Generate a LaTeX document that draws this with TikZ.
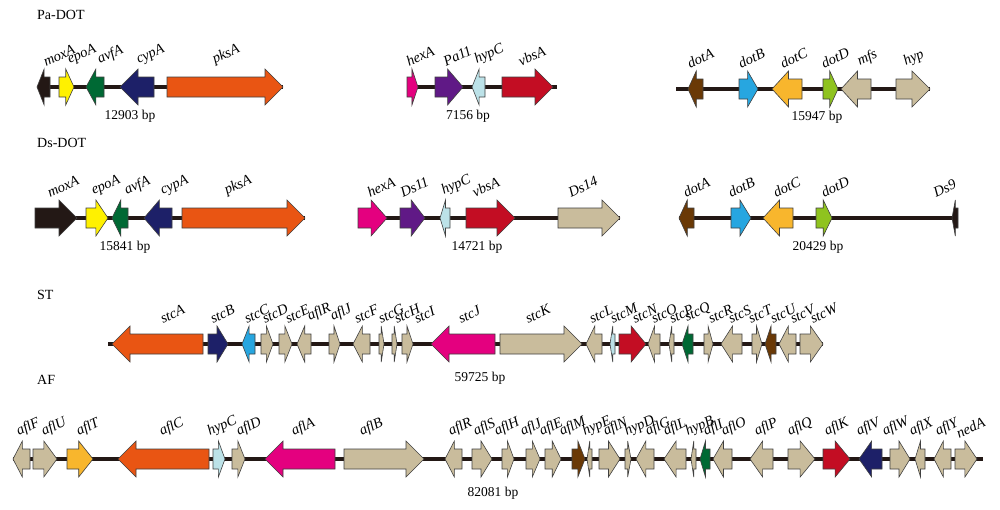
\documentclass[tikz,border=0pt]{standalone}
\usepackage{fontspec}
\setmainfont{Liberation Serif}
\definecolor{cblk}{HTML}{231815}
\definecolor{cyel}{HTML}{FFF100}
\definecolor{cgrn}{HTML}{006934}
\definecolor{cnav}{HTML}{1D2068}
\definecolor{corg}{HTML}{E95513}
\definecolor{cmag}{HTML}{E4007F}
\definecolor{cpur}{HTML}{601986}
\definecolor{clbl}{HTML}{BCE2E8}
\definecolor{cred}{HTML}{C30D23}
\definecolor{cbrn}{HTML}{6A3906}
\definecolor{cblu}{HTML}{27A6E0}
\definecolor{cgld}{HTML}{F8B62D}
\definecolor{clim}{HTML}{8FC31F}
\definecolor{ctan}{HTML}{C9BC9C}
\tikzset{
 gene/.style={draw=black!75,line width=0.6pt},
 bb/.style={draw=cblk,line width=3.5pt},
 lab/.style={anchor=south west,rotate=25,font=\fontsize{14.5}{14.5}\selectfont\itshape,inner sep=0pt},
 ttl/.style={anchor=west,font=\fontsize{14}{14}\selectfont,inner sep=0pt},
 bp/.style={font=\fontsize{13.5}{13.5}\selectfont,inner sep=0pt}
}
\newcommand\gn[7]{%
 \pgfmathsetmacro\gL{#2-#1}%
 \pgfmathsetmacro\gH{min(18,0.55*\gL)}%
 \ifnum#5>0
  \pgfmathsetmacro\gM{#2-\gH}%
  \draw[gene,fill=#4] (#1,#3-10) -- (\gM,#3-10) -- (\gM,#3-18) -- (#2,#3) -- (\gM,#3+18) -- (\gM,#3+10) -- (#1,#3+10) -- cycle;
 \else
  \pgfmathsetmacro\gM{#1+\gH}%
  \draw[gene,fill=#4] (#2,#3-10) -- (\gM,#3-10) -- (\gM,#3-18) -- (#1,#3) -- (\gM,#3+18) -- (\gM,#3+10) -- (#2,#3+10) -- cycle;
 \fi
 \node[lab] at (#7,#3-20) {#6};}
\begin{document}
\begin{tikzpicture}[x=1pt,y=-1pt]
\useasboundingbox[fill=white] (0,0) rectangle (1000,509);
% Pa-DOT
\node[ttl] (t1) at (37,15) {Pa-DOT};
\draw[bb] (40,87) -- (283,87);
\gn{37}{50}{87}{cblk}{-1}{moxA}{46}
\gn{59}{74}{87}{cyel}{1}{epoA}{71}
\gn{86}{104}{87}{cgrn}{-1}{avfA}{101}
\gn{120}{154}{87}{cnav}{-1}{cypA}{140}
\gn{167}{283}{87}{corg}{1}{pksA}{216}
\node[bp] (b1) at (130,116) {12903 bp};
\draw[bb] (407,87) -- (557,87);
\gn{407}{418}{87}{cmag}{1}{hexA}{409}
\gn{435}{463}{87}{cpur}{1}{Pa11}{446}
\gn{472}{485}{87}{clbl}{-1}{hypC}{478}
\gn{502}{553}{87}{cred}{1}{vbsA}{521}
\node[bp] (b2) at (468,116) {7156 bp};
\draw[bb] (676,89) -- (930,89);
\gn{688}{703}{89}{cbrn}{-1}{dotA}{690}
\gn{739}{758}{89}{cblu}{1}{dotB}{741}
\gn{772}{802}{89}{cgld}{-1}{dotC}{783}
\gn{823}{838}{89}{clim}{1}{dotD}{824}
\gn{841}{871}{89}{ctan}{-1}{mfs}{861}
\gn{896}{930}{89}{ctan}{1}{hyp}{907}
\node[bp] (b3) at (817,117) {15947 bp};
% Ds-DOT
\node[ttl] (t2) at (37,143) {Ds-DOT};
\draw[bb] (35,218) -- (305,218);
\gn{35}{77}{218}{cblk}{1}{moxA}{50}
\gn{86}{108}{218}{cyel}{1}{epoA}{95}
\gn{112}{128}{218}{cgrn}{-1}{avfA}{128}
\gn{144}{172}{218}{cnav}{-1}{cypA}{164}
\gn{182}{305}{218}{corg}{1}{pksA}{228}
\node[bp] (b4) at (125,247) {15841 bp};
\draw[bb] (358,218) -- (620,218);
\gn{358}{387}{218}{cmag}{1}{hexA}{370}
\gn{400}{425}{218}{cpur}{1}{Ds11}{403}
\gn{440}{450}{218}{clbl}{-1}{hypC}{445}
\gn{466}{515}{218}{cred}{1}{vbsA}{475}
\gn{558}{620}{218}{ctan}{1}{Ds14}{571}
\node[bp] (b5) at (477,247) {14721 bp};
\draw[bb] (679,218) -- (958,218);
\gn{679}{694}{218}{cbrn}{-1}{dotA}{686}
\gn{731}{751}{218}{cblu}{1}{dotB}{731}
\gn{763}{793}{218}{cgld}{-1}{dotC}{776}
\gn{816}{832}{218}{clim}{1}{dotD}{824}
\gn{952}{958}{218}{cblk}{-1}{Ds9}{936}
\node[bp] (b6) at (818,247) {20429 bp};
% ST
\node[ttl] (t3) at (37,295) {ST};
\draw[bb] (108,344) -- (823,344);
\gn{112}{203}{344}{corg}{-1}{stcA}{163}
\gn{208}{228}{344}{cnav}{1}{stcB}{213}
\gn{242}{255}{344}{cblu}{-1}{stcC}{247}
\gn{261}{273}{344}{ctan}{1}{stcD}{265}
\gn{279}{292}{344}{ctan}{1}{stcE}{288}
\gn{297}{311}{344}{ctan}{-1}{aflR}{311}
\gn{329}{340}{344}{ctan}{1}{aflJ}{334}
\gn{353}{370}{344}{ctan}{-1}{stcF}{357}
\gn{379}{384}{344}{ctan}{1}{stcG}{381}
\gn{392}{397}{344}{ctan}{1}{stcH}{397}
\gn{402}{413}{344}{ctan}{1}{stcI}{417}
\gn{431}{495}{344}{cmag}{-1}{stcJ}{461}
\gn{500}{582}{344}{ctan}{1}{stcK}{528}
\gn{586}{602}{344}{ctan}{-1}{stcL}{592}
\gn{610}{615}{344}{clbl}{-1}{stcM}{613}
\gn{619}{646}{344}{cred}{1}{stcN}{635}
\gn{648}{660}{344}{ctan}{-1}{stcO}{654}
\gn{669}{674}{344}{ctan}{-1}{stcP}{672}
\gn{682}{693}{344}{cgrn}{-1}{stcQ}{688}
\gn{704}{713}{344}{ctan}{1}{stcR}{711}
\gn{721}{742}{344}{ctan}{-1}{stcS}{731}
\gn{752}{762}{344}{ctan}{1}{stcT}{751}
\gn{765}{776}{344}{cbrn}{-1}{stcU}{773}
\gn{779}{796}{344}{ctan}{-1}{stcV}{793}
\gn{800}{823}{344}{ctan}{1}{stcW}{813}
\node[bp] (b7) at (480,378) {59725 bp};
% AF
\node[ttl] (t4) at (37,380) {AF};
\draw[bb] (13,459) -- (983,459);
\gn{13}{30}{459}{ctan}{-1}{aflF}{20}
\gn{33}{57}{459}{ctan}{1}{aflU}{45}
\gn{67}{93}{459}{cgld}{1}{aflT}{80}
\gn{118}{209}{459}{corg}{-1}{aflC}{163}
\gn{213}{225}{459}{clbl}{1}{hypC}{211}
\gn{232}{245}{459}{ctan}{1}{aflD}{240}
\gn{265}{335}{459}{cmag}{-1}{aflA}{295}
\gn{344}{424}{459}{ctan}{1}{aflB}{363}
\gn{445}{462}{459}{ctan}{-1}{aflR}{452}
\gn{472}{492}{459}{ctan}{1}{aflS}{477}
\gn{502}{514}{459}{ctan}{1}{aflH}{498}
\gn{526}{540}{459}{ctan}{1}{aflJ}{524}
\gn{545}{561}{459}{ctan}{1}{aflE}{543}
\gn{572}{585}{459}{cbrn}{1}{aflM}{563}
\gn{587}{592}{459}{ctan}{-1}{hypE}{586}
\gn{599}{620}{459}{ctan}{1}{aflN}{607}
\gn{625}{631}{459}{ctan}{1}{hypD}{628}
\gn{636}{654}{459}{ctan}{-1}{aflG}{649}
\gn{664}{686}{459}{ctan}{-1}{aflL}{667}
\gn{691}{696}{459}{ctan}{-1}{hypB}{689}
\gn{700}{710}{459}{cgrn}{-1}{aflI}{707}
\gn{713}{732}{459}{ctan}{-1}{aflO}{725}
\gn{750}{773}{459}{ctan}{-1}{aflP}{758}
\gn{788}{815}{459}{ctan}{1}{aflQ}{791}
\gn{823}{850}{459}{cred}{1}{aflK}{828}
\gn{859}{882}{459}{cnav}{-1}{aflV}{860}
\gn{890}{910}{459}{ctan}{1}{aflW}{886}
\gn{915}{925}{459}{ctan}{-1}{aflX}{913}
\gn{934}{951}{459}{ctan}{-1}{aflY}{939}
\gn{955}{977}{459}{ctan}{1}{nedA}{959}
\node[bp] (b8) at (493,493) {82081 bp};
\end{tikzpicture}
\end{document}
